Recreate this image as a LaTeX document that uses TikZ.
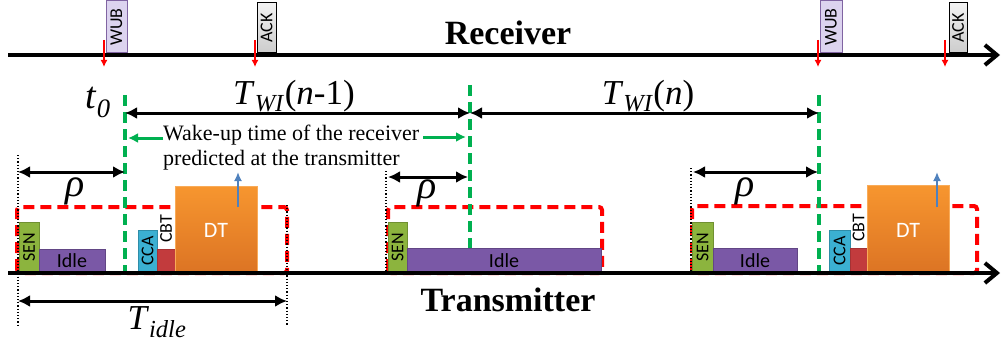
\documentclass[tikz,border=0pt]{standalone}
\usepackage{fontspec}
\setmainfont{Liberation Serif}
\setsansfont{Carlito}
\usetikzlibrary{arrows.meta}

\definecolor{wubfill}{HTML}{DCD3EF}
\definecolor{wubline}{HTML}{8064A2}
\definecolor{senfill}{HTML}{8CB43E}
\definecolor{idlefill}{HTML}{7A58A6}
\definecolor{ccafill}{HTML}{3BB0D2}
\definecolor{cbtfill}{HTML}{C23B3D}
\definecolor{dttop}{HTML}{F7962F}
\definecolor{dtbot}{HTML}{DC7424}
\definecolor{wakegreen}{HTML}{00B050}
\definecolor{upblue}{HTML}{4F81BD}

\tikzset{
  axis/.style={line width=4pt,-{Straight Barb[length=12pt,width=20pt]}},
  span/.style={line width=3pt,{Latex[length=12pt,width=12pt]}-{Latex[length=12pt,width=12pt]}},
  wakeline/.style={wakegreen,line width=3.5pt,dash pattern=on 11pt off 6pt},
  cycle/.style={red,line width=4pt,dash pattern=on 11pt off 6pt,rounded corners=3pt},
  guide/.style={line width=1.2pt,dotted},
  rxarr/.style={red,line width=2pt,-{Latex[length=7pt,width=7pt]}},
  txarr/.style={upblue,line width=2.5pt,-{Latex[length=9pt,width=8pt]}},
  hint/.style={wakegreen,line width=3pt,-{Latex[length=10pt,width=10pt]}},
  pkt/.style={font=\sffamily\fontsize{18}{18}\selectfont,rotate=90,inner sep=0pt},
  blk/.style={font=\sffamily\fontsize{20}{20}\selectfont,inner sep=0pt},
  title/.style={font=\bfseries\fontsize{34}{34}\selectfont,inner sep=0pt},
  lab/.style={font=\fontsize{35}{35}\selectfont,inner sep=0pt}
}

\begin{document}
\begin{tikzpicture}[x=1pt,y=-1pt]
  \useasboundingbox (0,0) rectangle (1002,345);

  % time instants
  \coordinate (t0) at (125,113);
  \coordinate (t1) at (470,113);
  \coordinate (t2) at (819,113);

  % receiver side
  \draw[wubline,fill=wubfill,line width=1pt] (106,1) rectangle (127,53);
  \node[pkt] (wubA) at (116.5,27) {WUB};
  \draw[line width=1pt,top color=gray!10,bottom color=gray!40] (257,3) rectangle (276,53);
  \node[pkt] (ackA) at (266.5,28) {ACK};
  \draw[wubline,fill=wubfill,line width=1pt] (820,1) rectangle (842,53);
  \node[pkt] (wubB) at (831,27) {WUB};
  \draw[line width=1pt,top color=gray!10,bottom color=gray!40] (949,3) rectangle (967,53);
  \node[pkt] (ackB) at (958,28) {ACK};
  \draw[axis] (8,55) -- (1000,55);
  \draw[rxarr] (104,40) -- (104,67);
  \draw[rxarr] (255,40) -- (255,67);
  \draw[rxarr] (818,40) -- (818,67);
  \draw[rxarr] (945,40) -- (945,67);
  \node[title] (rx) at (508,33) {Receiver};

  % listening cycles
  \draw[cycle] (17,273) -- (17,207) -- (287,207) -- (287,273) -- cycle;
  \draw[cycle] (388,273) -- (388,207) -- (602,207) -- (602,273) -- cycle;
  \draw[cycle] (692,273) -- (692,206) -- (977,206) -- (977,273) -- cycle;

  % predicted wake-up instants
  \draw[wakeline] (125,95) -- (125,272);
  \draw[wakeline] (470,85) -- (470,272);
  \draw[wakeline] (819,95) -- (819,272);

  % cycle 1
  \draw[senfill!80!black,fill=senfill] (19,222) rectangle (39,272);
  \node[pkt] (sen1) at (29,247) {SEN};
  \draw[idlefill!80!black,fill=idlefill] (39,249) rectangle (105,271);
  \node[blk] (idle1) at (72,261) {Idle};
  \draw[ccafill!80!black,fill=ccafill] (138,230) rectangle (157,272);
  \node[pkt] (cca1) at (147.5,251) {CCA};
  \draw[cbtfill!85!black,fill=cbtfill] (157,249) rectangle (175,272);
  \node[pkt] (cbt1) at (166,229) {CBT};
  \draw[dttop!80!white,top color=dttop,bottom color=dtbot] (175,186) rectangle (257,272);
  \node[blk,white,font=\sffamily\fontsize{22}{22}\selectfont] (dt1) at (216,230) {DT};
  \draw[txarr] (238,207) -- (238,172);

  % cycle 2
  \draw[senfill!80!black,fill=senfill] (388,222) rectangle (407,272);
  \node[pkt] (sen2) at (397.5,247) {SEN};
  \draw[idlefill!80!black,fill=idlefill] (407,248) rectangle (601,271);
  \node[blk] (idle2) at (504,261) {Idle};

  % cycle 3
  \draw[senfill!80!black,fill=senfill] (692,222) rectangle (713,272);
  \node[pkt] (sen3) at (702.5,247) {SEN};
  \draw[idlefill!80!black,fill=idlefill] (713,248) rectangle (797,271);
  \node[blk] (idle3) at (755,261) {Idle};
  \draw[ccafill!80!black,fill=ccafill] (829,230) rectangle (850,272);
  \node[pkt] (cca3) at (839.5,251) {CCA};
  \draw[cbtfill!85!black,fill=cbtfill] (850,248) rectangle (867,272);
  \node[pkt] (cbt3) at (858.5,228) {CBT};
  \draw[dttop!80!white,top color=dttop,bottom color=dtbot] (867,185) rectangle (949,272);
  \node[blk,white,font=\sffamily\fontsize{22}{22}\selectfont] (dt3) at (908,230) {DT};
  \draw[txarr] (937,207) -- (937,172);

  % transmitter side
  \draw[axis] (8,273) -- (1000,273);
  \node[title] (tx) at (508,300) {Transmitter};

  % intervals
  \node[lab,font=\fontsize{38}{38}\selectfont] (t0lab) at (98,102) {\textit{t}\textsubscript{\textit{0}}};
  \draw[span] (t0) -- (t1);
  \node[lab] (twa) at (294,96) {\textit{T}\textsubscript{\textit{WI}}(\textit{n}-1)};
  \draw[span] (t1) -- (t2);
  \node[lab] (twb) at (648,96) {\textit{T}\textsubscript{\textit{WI}}(\textit{n})};

  \node[font=\fontsize{22}{25}\selectfont,align=left,anchor=base west,inner sep=0pt] (note) at (163,165)
    {Wake-up time of the receiver\\predicted at the transmitter};
  \draw[hint] (163,138) -- (128,138);
  \draw[hint] (423,137) -- (466,137);

  \draw[guide] (18,155) -- (18,325);
  \draw[guide] (287,205) -- (287,325);
  \draw[guide] (386,171) -- (386,272);
  \draw[guide] (691,168) -- (691,272);

  \draw[span] (18,172) -- (125,172);
  \node[lab,font=\fontsize{40}{40}\selectfont] (rho1) at (75,191) {\textit{ρ}};
  \draw[span] (388,177) -- (468,177);
  \node[lab,font=\fontsize{40}{40}\selectfont] (rho2) at (427,193) {\textit{ρ}};
  \draw[span] (693,172) -- (818,172);
  \node[lab,font=\fontsize{40}{40}\selectfont] (rho3) at (745,191) {\textit{ρ}};

  \draw[span] (18,301) -- (287,301);
  \node[lab] (tidle) at (157,322) {\textit{T}\textsubscript{\textit{idle}}};
\end{tikzpicture}
\end{document}
